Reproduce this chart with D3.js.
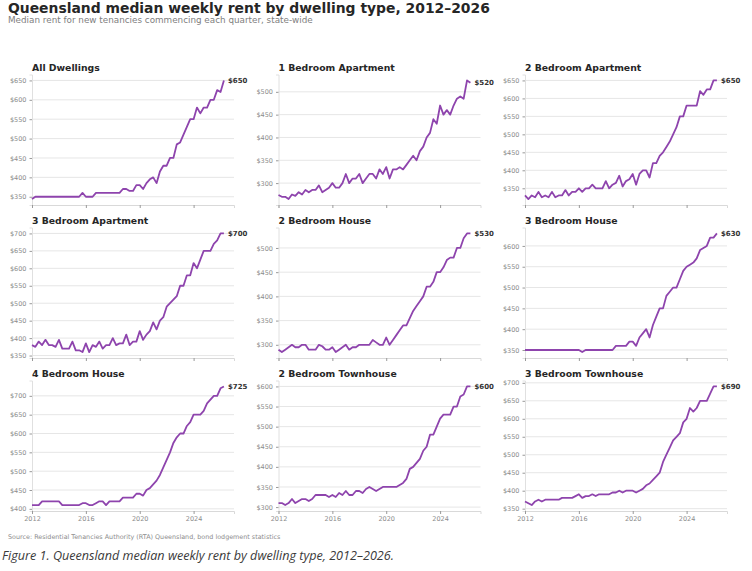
<!DOCTYPE html>
<html>
<head>
<meta charset="utf-8">
<script src="https://cdn.jsdelivr.net/npm/d3@7"></script>
<style>
  body { margin: 0; background: #fff; }
  svg { display: block; }
  .tick text { font-family: "DejaVu Sans", sans-serif; }
</style>
</head>
<body>
<div id="chart"></div>
<script>
// quarterly medians, 2012 Q1 .. 2026 Q2
const startYear = 2012;
const xTicks = [2012, 2016, 2020, 2024];

const allDwellings = [344,350,350,350,350,350,350,350,350,350,
  350,350,350,350,350,360,350,350,350,360,
  360,360,360,360,360,360,360,370,370,365,
  365,380,380,370,385,395,400,385,415,430,
  430,450,450,485,490,510,530,550,550,580,
  565,580,580,600,600,625,620,650];
const oneBedApt = [274,270,270,265,275,272,280,275,285,280,
  285,285,295,280,285,290,300,290,290,300,
  320,300,310,310,320,300,310,320,320,310,
  330,320,335,310,330,330,335,330,340,350,
  360,350,370,380,400,410,440,430,470,450,
  460,450,470,485,490,485,525,520];
const twoBedApt = [330,320,330,325,340,325,330,325,340,325,
  330,330,345,330,340,340,350,340,350,350,
  360,350,350,350,370,350,360,365,385,355,
  370,375,390,360,390,400,400,380,420,420,
  440,450,465,480,500,520,550,550,580,580,
  580,580,620,610,625,625,650,650];
const threeBedApt = [380,375,390,380,395,380,380,375,395,370,
  370,370,390,365,365,360,385,360,380,375,
  390,370,380,380,400,380,385,385,410,380,
  390,390,420,395,410,420,445,425,450,460,
  490,500,510,520,550,550,580,580,615,600,
  625,650,650,650,670,680,700,700];
const twoBedHouse = [290,285,290,295,300,295,295,300,300,290,
  290,290,300,297,290,290,295,285,290,295,
  300,290,295,295,300,300,300,300,310,305,
  300,300,315,300,310,320,330,340,340,355,
  370,380,390,400,420,420,430,450,450,460,
  475,480,480,500,500,520,530,530];
const threeBedHouse = [350,350,350,350,350,350,350,350,350,350,
  350,350,350,350,350,350,350,345,350,350,
  350,350,350,350,350,350,350,360,360,360,
  360,370,370,360,380,390,400,380,410,430,
  450,450,480,490,500,500,520,540,550,555,
  560,570,590,595,600,620,620,630];
const fourBedHouse = [410,410,410,420,420,420,420,420,420,410,
  410,410,410,410,410,415,415,410,410,415,
  420,420,410,420,420,420,420,430,430,430,
  430,440,440,435,450,455,465,475,490,510,
  530,550,575,590,600,600,620,630,650,650,
  650,660,680,690,700,700,720,725];
const twoBedTownhouse = [310,310,305,310,320,310,315,320,320,315,
  320,330,330,330,330,325,330,325,335,330,
  340,330,330,340,340,335,345,350,345,340,
  345,350,350,350,350,350,355,360,370,395,
  400,410,420,440,450,480,480,500,520,530,
  530,530,550,550,575,580,600,600];
const threeBedTownhouse = [370,365,360,370,375,370,375,375,375,375,
  375,380,380,380,380,385,390,380,385,385,
  390,385,390,390,390,390,395,395,400,395,
  400,400,400,395,400,405,415,420,430,440,
  450,480,500,520,540,550,560,590,600,630,
  620,630,650,650,650,670,690,690];

const panelTitles = ["All Dwellings", "1 Bedroom Apartment", "2 Bedroom Apartment",
  "3 Bedroom Apartment", "2 Bedroom House", "3 Bedroom House",
  "4 Bedroom House", "2 Bedroom Townhouse", "3 Bedroom Townhouse"];
const panelSeries = [allDwellings, oneBedApt, twoBedApt,
  threeBedApt, twoBedHouse, threeBedHouse,
  fourBedHouse, twoBedTownhouse, threeBedTownhouse];

const W = 752, H = 571;
const colX = [32, 278.5, 525];
const rowY = [74.5, 227.5, 380.5];
const plotW = 202, plotH = 130.5;
const lineColor = "#8e44ad";
const font = "DejaVu Sans, sans-serif";

const svg = d3.select("#chart").append("svg")
  .attr("width", W).attr("height", H);

svg.append("rect").attr("width", W).attr("height", H).attr("fill", "#fff");

svg.append("text")
  .attr("x", 8).attr("y", 13)
  .attr("font-family", font).attr("font-size", 13.9).attr("font-weight", "bold")
  .attr("fill", "#262626")
  .text("Queensland median weekly rent by dwelling type, 2012\u20132026");

svg.append("text")
  .attr("x", 8).attr("y", 23)
  .attr("font-family", font).attr("font-size", 8.8)
  .attr("fill", "#808080")
  .text("Median rent for new tenancies commencing each quarter, state-wide");

const x = d3.scaleLinear().domain([2012, 2027]).range([0, plotW]);

panelSeries.forEach((vals, k) => {
  const row = Math.floor(k / 3), col = k % 3;
  const g = svg.append("g").attr("transform", `translate(${colX[col]},${rowY[row]})`);
  const data = vals.map((v, i) => ({t: startYear + i / 4, v: v}));

  const lo = d3.min(vals), hi = d3.max(vals), pad = (hi - lo) * 0.05;
  const y = d3.scaleLinear().domain([lo - pad, hi + pad]).range([plotH, 0]);
  const yTicks = d3.range(Math.ceil((lo - pad) / 50) * 50, hi + pad + 0.01, 50);

  // grid
  g.selectAll(".grid").data(yTicks).enter().append("line")
    .attr("x1", 0).attr("x2", plotW)
    .attr("y1", d => y(d)).attr("y2", d => y(d))
    .attr("stroke", "#e6e6e6").attr("stroke-width", 1);

  const yAxis = g.append("g").call(d3.axisLeft(y).tickValues(yTicks)
    .tickSize(2.5).tickPadding(3).tickFormat(d => "$" + d));
  yAxis.select(".domain").attr("stroke", "#e0e0e0");
  yAxis.selectAll(".tick line").attr("stroke", "#999");
  yAxis.selectAll(".tick text").attr("fill", "#8c8c8c").attr("font-size", 6.5);

  const xAxis = g.append("g").attr("transform", `translate(0,${plotH})`)
    .call(d3.axisBottom(x).tickValues(xTicks).tickSize(3).tickPadding(2.5)
      .tickFormat(d => row === 2 ? d : ""));
  xAxis.select(".domain").attr("stroke", "#d9d9d9");
  xAxis.selectAll(".tick line").attr("stroke", "#999");
  xAxis.selectAll(".tick text").attr("fill", "#8c8c8c").attr("font-size", 6.5);

  g.append("path").datum(data)
    .attr("fill", "none").attr("stroke", lineColor)
    .attr("stroke-width", 1.8).attr("stroke-linejoin", "round")
    .attr("d", d3.line().x(d => x(d.t)).y(d => y(d.v)));

  const last = data[data.length - 1];
  g.append("text")
    .attr("x", x(last.t) + 4).attr("y", y(last.v))
    .attr("dy", "0.35em")
    .attr("font-family", font).attr("font-size", 7).attr("font-weight", "bold")
    .attr("fill", "#333")
    .text("$" + last.v);

  g.append("text")
    .attr("x", 0).attr("y", -4)
    .attr("font-family", font).attr("font-size", 9.3).attr("font-weight", "bold")
    .attr("fill", "#262626")
    .text(panelTitles[k]);
});

svg.append("text")
  .attr("x", 8).attr("y", 539)
  .attr("font-family", font).attr("font-size", 6.4)
  .attr("fill", "#8c8c8c")
  .text("Source: Residential Tenancies Authority (RTA) Queensland, bond lodgement statistics");

svg.append("text")
  .attr("x", 2).attr("y", 560)
  .attr("font-family", "Open Sans, sans-serif").attr("font-size", 12.6)
  .attr("font-style", "italic")
  .attr("fill", "#3a3a3a")
  .text("Figure 1. Queensland median weekly rent by dwelling type, 2012\u20132026.");
</script>
</body>
</html>
